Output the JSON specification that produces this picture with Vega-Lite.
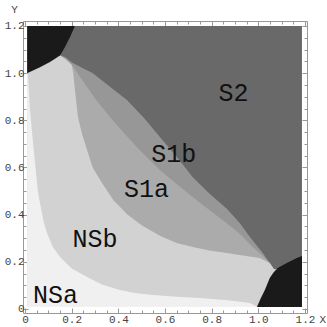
{
  "$schema": "https://vega.github.io/schema/vega-lite/v6.json",
  "width": 284,
  "height": 292,
  "autosize": "none",
  "padding": {"left": 23, "top": 21, "right": 20, "bottom": 14},
  "background": "white",
  "config": {
    "view": {"stroke": "#999999", "strokeWidth": 1},
    "axis": {
      "domain": false,
      "grid": false,
      "tickColor": "#999999",
      "labelFont": "Liberation Mono",
      "labelFontSize": 11,
      "labelColor": "#444444",
      "labelOverlap": false,
      "labelBound": false,
      "labelFlush": false,
      "titleFont": "Liberation Mono",
      "titleFontWeight": "normal",
      "titleFontSize": 11,
      "titleColor": "#444444"
    }
  },
  "datasets": {
    "bounds": [
      {"r": "S1b", "x": 0.009, "y": 1.2}, {"r": "S1b", "x": 0.135, "y": 1.2}, {"r": "S1b", "x": 0.15, "y": 1.077},
      {"r": "S1b", "x": 0.175, "y": 1.066}, {"r": "S1b", "x": 0.201, "y": 1.045}, {"r": "S1b", "x": 0.25, "y": 1.02},
      {"r": "S1b", "x": 0.291, "y": 1.0}, {"r": "S1b", "x": 0.36, "y": 0.945}, {"r": "S1b", "x": 0.437, "y": 0.886},
      {"r": "S1b", "x": 0.51, "y": 0.81}, {"r": "S1b", "x": 0.578, "y": 0.729}, {"r": "S1b", "x": 0.65, "y": 0.645},
      {"r": "S1b", "x": 0.719, "y": 0.559}, {"r": "S1b", "x": 0.79, "y": 0.49}, {"r": "S1b", "x": 0.865, "y": 0.425},
      {"r": "S1b", "x": 0.92, "y": 0.365}, {"r": "S1b", "x": 0.964, "y": 0.305}, {"r": "S1b", "x": 1.019, "y": 0.237},
      {"r": "S1b", "x": 1.049, "y": 0.195}, {"r": "S1b", "x": 1.067, "y": 0.168}, {"r": "S1b", "x": 1.187, "y": 0.168},

      {"r": "S1a", "x": 0.009, "y": 1.2}, {"r": "S1a", "x": 0.135, "y": 1.2}, {"r": "S1a", "x": 0.15, "y": 1.076},
      {"r": "S1a", "x": 0.175, "y": 1.06}, {"r": "S1a", "x": 0.206, "y": 1.028}, {"r": "S1a", "x": 0.236, "y": 0.985},
      {"r": "S1a", "x": 0.266, "y": 0.941}, {"r": "S1a", "x": 0.31, "y": 0.88}, {"r": "S1a", "x": 0.364, "y": 0.814},
      {"r": "S1a", "x": 0.42, "y": 0.75}, {"r": "S1a", "x": 0.48, "y": 0.686}, {"r": "S1a", "x": 0.578, "y": 0.589},
      {"r": "S1a", "x": 0.65, "y": 0.53}, {"r": "S1a", "x": 0.719, "y": 0.475}, {"r": "S1a", "x": 0.79, "y": 0.42},
      {"r": "S1a", "x": 0.865, "y": 0.364}, {"r": "S1a", "x": 0.925, "y": 0.315}, {"r": "S1a", "x": 0.976, "y": 0.263},
      {"r": "S1a", "x": 1.02, "y": 0.225}, {"r": "S1a", "x": 1.049, "y": 0.195}, {"r": "S1a", "x": 1.067, "y": 0.168},
      {"r": "S1a", "x": 1.187, "y": 0.168},

      {"r": "NSb", "x": 0.009, "y": 1.2}, {"r": "NSb", "x": 0.135, "y": 1.2}, {"r": "NSb", "x": 0.15, "y": 1.075},
      {"r": "NSb", "x": 0.175, "y": 1.058}, {"r": "NSb", "x": 0.2, "y": 1.035}, {"r": "NSb", "x": 0.207, "y": 1.0},
      {"r": "NSb", "x": 0.215, "y": 0.92}, {"r": "NSb", "x": 0.227, "y": 0.814}, {"r": "NSb", "x": 0.245, "y": 0.74},
      {"r": "NSb", "x": 0.266, "y": 0.674}, {"r": "NSb", "x": 0.29, "y": 0.6}, {"r": "NSb", "x": 0.33, "y": 0.534},
      {"r": "NSb", "x": 0.38, "y": 0.46}, {"r": "NSb", "x": 0.44, "y": 0.4}, {"r": "NSb", "x": 0.5, "y": 0.355},
      {"r": "NSb", "x": 0.578, "y": 0.31}, {"r": "NSb", "x": 0.65, "y": 0.28}, {"r": "NSb", "x": 0.719, "y": 0.263},
      {"r": "NSb", "x": 0.79, "y": 0.248}, {"r": "NSb", "x": 0.865, "y": 0.237}, {"r": "NSb", "x": 0.94, "y": 0.226},
      {"r": "NSb", "x": 1.006, "y": 0.216}, {"r": "NSb", "x": 1.049, "y": 0.195}, {"r": "NSb", "x": 1.067, "y": 0.168},
      {"r": "NSb", "x": 1.187, "y": 0.168},

      {"r": "NSa", "x": 0.009, "y": 1.0}, {"r": "NSa", "x": 0.013, "y": 0.99}, {"r": "NSa", "x": 0.018, "y": 0.9},
      {"r": "NSa", "x": 0.021, "y": 0.85}, {"r": "NSa", "x": 0.03, "y": 0.75}, {"r": "NSa", "x": 0.043, "y": 0.62},
      {"r": "NSa", "x": 0.055, "y": 0.5}, {"r": "NSa", "x": 0.064, "y": 0.45}, {"r": "NSa", "x": 0.08, "y": 0.37},
      {"r": "NSa", "x": 0.094, "y": 0.322}, {"r": "NSa", "x": 0.12, "y": 0.262}, {"r": "NSa", "x": 0.15, "y": 0.22},
      {"r": "NSa", "x": 0.2, "y": 0.172}, {"r": "NSa", "x": 0.266, "y": 0.136}, {"r": "NSa", "x": 0.33, "y": 0.104},
      {"r": "NSa", "x": 0.407, "y": 0.081}, {"r": "NSa", "x": 0.47, "y": 0.068}, {"r": "NSa", "x": 0.535, "y": 0.06},
      {"r": "NSa", "x": 0.65, "y": 0.052}, {"r": "NSa", "x": 0.749, "y": 0.047}, {"r": "NSa", "x": 0.87, "y": 0.037},
      {"r": "NSa", "x": 0.964, "y": 0.025}, {"r": "NSa", "x": 0.998, "y": 0.008},

      {"r": "BlackTL", "x": 0.009, "y": 1.0}, {"r": "BlackTL", "x": 0.064, "y": 1.025}, {"r": "BlackTL", "x": 0.107, "y": 1.047},
      {"r": "BlackTL", "x": 0.15, "y": 1.075}, {"r": "BlackTL", "x": 0.171, "y": 1.11}, {"r": "BlackTL", "x": 0.193, "y": 1.153},
      {"r": "BlackTL", "x": 0.214, "y": 1.2},

      {"r": "BlackBR", "x": 0.994, "y": 0.008}, {"r": "BlackBR", "x": 1.01, "y": 0.045}, {"r": "BlackBR", "x": 1.028, "y": 0.081},
      {"r": "BlackBR", "x": 1.049, "y": 0.131}, {"r": "BlackBR", "x": 1.065, "y": 0.155}, {"r": "BlackBR", "x": 1.083, "y": 0.174},
      {"r": "BlackBR", "x": 1.122, "y": 0.195}, {"r": "BlackBR", "x": 1.165, "y": 0.216}, {"r": "BlackBR", "x": 1.187, "y": 0.225}
    ],
    "labels": [
      {"label": "S2", "x": 0.894, "y": 0.914},
      {"label": "S1b", "x": 0.637, "y": 0.655},
      {"label": "S1a", "x": 0.521, "y": 0.507},
      {"label": "NSb", "x": 0.3, "y": 0.295},
      {"label": "NSa", "x": 0.131, "y": 0.061}
    ]
  },
  "resolve": {"axis": {"x": "independent", "y": "independent"}},
  "layer": [
    {
      "data": {"values": [{"r": "S2"}]},
      "mark": {"type": "rect", "color": "#696969"},
      "encoding": {
        "x": {"datum": 0.009, "type": "quantitative",
              "scale": {"domain": [-0.0086, 1.2086], "nice": false, "zero": false},
              "axis": {"orient": "bottom", "title": "X", "titleX": 296, "titleY": 6, "titleAlign": "left", "titleBaseline": "middle",
                       "values": [0, 0.05, 0.1, 0.15, 0.2, 0.25, 0.3, 0.35, 0.4, 0.45, 0.5, 0.55, 0.6, 0.65, 0.7, 0.75, 0.8, 0.85, 0.9, 0.95, 1.0, 1.05, 1.1, 1.15, 1.2],
                       "labelExpr": "abs(datum.value*5 - round(datum.value*5)) < 0.001 ? (datum.value == 0 ? '0' : format(datum.value, '.1f')) : ''",
                       "tickSize": {"condition": {"test": "abs(datum.value*5 - round(datum.value*5)) < 0.001", "value": -5}, "value": -3},
                       "labelPadding": 5}},
        "x2": {"datum": 1.187},
        "y": {"datum": 0.008, "type": "quantitative",
              "scale": {"domain": [-0.017, 1.221], "nice": false, "zero": false},
              "axis": {"orient": "left", "title": "Y", "titleAngle": 0, "titleX": -9, "titleY": -12, "titleAlign": "center", "titleBaseline": "middle",
                       "values": [0, 0.05, 0.1, 0.15, 0.2, 0.25, 0.3, 0.35, 0.4, 0.45, 0.5, 0.55, 0.6, 0.65, 0.7, 0.75, 0.8, 0.85, 0.9, 0.95, 1.0, 1.05, 1.1, 1.15, 1.2],
                       "labelExpr": "abs(datum.value*5 - round(datum.value*5)) < 0.001 ? (datum.value == 0 ? '0' : format(datum.value, '.1f')) : ''",
                       "tickSize": {"condition": {"test": "abs(datum.value*5 - round(datum.value*5)) < 0.001", "value": -5}, "value": -3},
                       "labelPadding": 4}},
        "y2": {"datum": 1.2}
      }
    },
    {
      "data": {"name": "bounds"},
      "transform": [{"filter": "datum.r == 'S1b'"}],
      "mark": {"type": "area", "color": "#979797"},
      "encoding": {
        "x": {"field": "x", "type": "quantitative",
              "axis": {"orient": "top", "title": null, "labels": false,
                       "values": [0, 0.05, 0.1, 0.15, 0.2, 0.25, 0.3, 0.35, 0.4, 0.45, 0.5, 0.55, 0.6, 0.65, 0.7, 0.75, 0.8, 0.85, 0.9, 0.95, 1.0, 1.05, 1.1, 1.15, 1.2],
                       "tickSize": {"condition": {"test": "abs(datum.value*5 - round(datum.value*5)) < 0.001", "value": -5}, "value": -3}}},
        "y": {"field": "y", "type": "quantitative",
              "axis": {"orient": "right", "title": null, "labels": false,
                       "values": [0, 0.05, 0.1, 0.15, 0.2, 0.25, 0.3, 0.35, 0.4, 0.45, 0.5, 0.55, 0.6, 0.65, 0.7, 0.75, 0.8, 0.85, 0.9, 0.95, 1.0, 1.05, 1.1, 1.15, 1.2],
                       "tickSize": {"condition": {"test": "abs(datum.value*5 - round(datum.value*5)) < 0.001", "value": -5}, "value": -3}}},
        "y2": {"datum": 0.008}
      }
    },
    {
      "data": {"name": "bounds"},
      "transform": [{"filter": "datum.r == 'S1a'"}],
      "mark": {"type": "area", "color": "#ababab"},
      "encoding": {
        "x": {"field": "x", "type": "quantitative", "axis": null},
        "y": {"field": "y", "type": "quantitative", "axis": null},
        "y2": {"datum": 0.008}
      }
    },
    {
      "data": {"name": "bounds"},
      "transform": [{"filter": "datum.r == 'NSb'"}],
      "mark": {"type": "area", "color": "#d2d2d2"},
      "encoding": {
        "x": {"field": "x", "type": "quantitative", "axis": null},
        "y": {"field": "y", "type": "quantitative", "axis": null},
        "y2": {"datum": 0.008}
      }
    },
    {
      "data": {"name": "bounds"},
      "transform": [{"filter": "datum.r == 'NSa'"}],
      "mark": {"type": "area", "color": "#f0f0f0"},
      "encoding": {
        "x": {"field": "x", "type": "quantitative", "axis": null},
        "y": {"field": "y", "type": "quantitative", "axis": null},
        "y2": {"datum": 0.008}
      }
    },
    {
      "data": {"name": "bounds"},
      "transform": [{"filter": "datum.r == 'BlackTL'"}],
      "mark": {"type": "area", "color": "#1a1a1a"},
      "encoding": {
        "x": {"field": "x", "type": "quantitative", "axis": null},
        "y": {"field": "y", "type": "quantitative", "axis": null},
        "y2": {"datum": 1.2}
      }
    },
    {
      "data": {"name": "bounds"},
      "transform": [{"filter": "datum.r == 'BlackBR'"}],
      "mark": {"type": "area", "color": "#1a1a1a"},
      "encoding": {
        "x": {"field": "x", "type": "quantitative", "axis": null},
        "y": {"field": "y", "type": "quantitative", "axis": null},
        "y2": {"datum": 0.008}
      }
    },
    {
      "data": {"name": "labels"},
      "mark": {"type": "text", "font": "Liberation Mono", "fontSize": 25, "color": "#111111", "align": "center", "baseline": "middle"},
      "encoding": {
        "x": {"field": "x", "type": "quantitative", "axis": null},
        "y": {"field": "y", "type": "quantitative", "axis": null},
        "text": {"field": "label"}
      }
    }
  ]
}
